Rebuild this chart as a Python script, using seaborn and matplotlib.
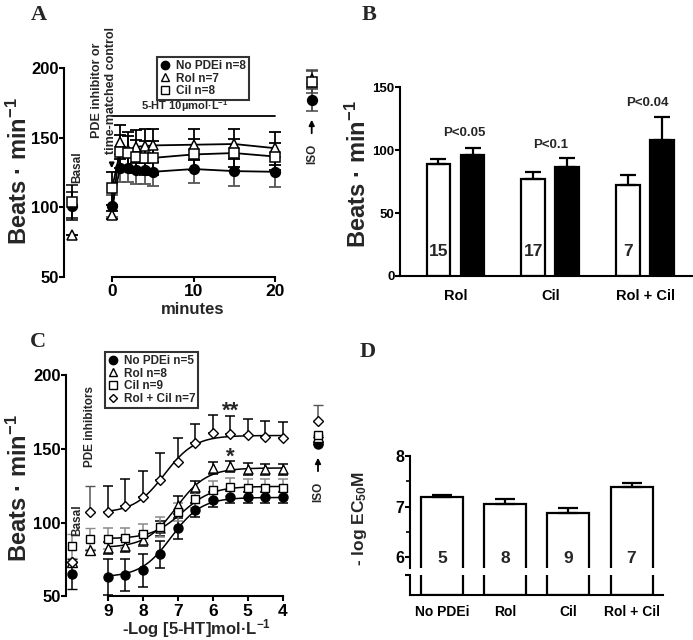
import numpy as np
import pandas as pd
import matplotlib
matplotlib.use("Agg")
import matplotlib.pyplot as plt
import seaborn as sns
from matplotlib.lines import Line2D

# ---------------- data ----------------
# Panel A : time course (minutes), Beats/min
a_time = [0, 1, 2, 3, 4, 5, 10, 15, 20]
a_nopde = [101, 128.5, 128.5, 127, 127, 125.5, 127.5, 126, 125.5]
a_nopde_sem = [8, 10, 10, 10, 10, 10, 10, 11, 11]
a_rol = [94.5, 147, 141, 143.5, 144, 144.5, 145, 145.5, 142.5]
a_rol_sem = [3, 12, 13, 12, 12, 12, 11, 11, 12]
a_cil = [113.5, 140, 139, 136.5, 135.5, 135.5, 138, 139, 136.5]
a_cil_sem = [12, 12, 12, 12, 12, 12, 11, 10, 10]
a_labels = ["No PDEi n=8", "Rol n=7", "Cil n=8"]
a_basal = [101, 80, 104]        # No PDEi, Rol, Cil
a_basal_sem = [10, 0, 12]
a_iso = [177.5, 192, 190]
a_iso_sem = [8.5, 7, 8]

# Panel B : before / after bars
b_groups = ["Rol", "Cil", "Rol + Cil"]
b_before = [89, 77, 72]
b_before_sem = [4, 6, 8]
b_after = [96.5, 86.5, 108]
b_after_sem = [5, 7.5, 18]
b_n = ["15", "17", "7"]
b_p = ["P<0.05", "P<0.1", "P<0.04"]

# Panel C : concentration-response (-log[5-HT])
c_conc = [9, 8.5, 8, 7.5, 7, 6.5, 6, 5.5, 5, 4.5, 4]
c_nopde = [63, 64.5, 67.5, 78.5, 96, 108.5, 115.5, 117.5, 117, 117, 117]
c_nopde_sem = [12, 11, 11, 9, 7, 5, 5, 4, 4, 4, 4]
c_rol = [82.5, 84, 88, 96, 112, 124, 137, 138, 136.5, 136, 136]
c_rol_sem = [4, 4, 4, 5, 6, 4, 4, 4, 4, 4, 4]
c_cil = [89, 89.5, 92, 97, 107, 116, 122, 124, 123.5, 123.5, 123.5]
c_cil_sem = [7, 7, 7, 7, 6, 6, 6, 6, 6, 6, 6]
c_rc = [107, 111.5, 117, 129, 141, 154, 161, 160, 159, 158, 157]
c_rc_sem = [18, 18, 18, 18, 16, 13, 12, 12, 11, 11, 11]
c_labels = ["No PDEi n=5", "Rol n=8", "Cil n=9", "Rol + Cil n=7"]
c_fit_bottom = [63, 83, 89, 106.5]
c_fit_top = [117, 137, 124.5, 159]
c_basal = [65, 73, 84, 73]
c_basal_sem = [10, 0, 8, 0]
c_pdei = [np.nan, 81.5, 89, 107]
c_pdei_sem = [0, 0, 7, 18]
c_iso = [153, 158, 159.5, 169]
c_iso_sem = [0, 0, 0, 11]

# Panel D : -log EC50
d_groups = ["No PDEi", "Rol", "Cil", "Rol + Cil"]
d_vals = [7.19, 7.05, 6.88, 7.38]
d_sem = [0.05, 0.11, 0.10, 0.09]
d_n = ["5", "8", "9", "7"]

# ---------------- style ----------------
sns.set_style("ticks")
plt.rcParams.update({
    'font.family': ['Liberation Sans', 'DejaVu Sans'],
    'font.weight': 'bold',
    'mathtext.fontset': 'custom',
    'mathtext.rm': 'Liberation Sans:bold',
    'mathtext.bf': 'Liberation Sans:bold',
    'mathtext.it': 'Liberation Sans:bold:italic',
    'axes.linewidth': 1.5,
    'xtick.color': 'black', 'ytick.color': 'black',
    'axes.edgecolor': 'black',
})

W, H = 693, 640
fig = plt.figure(figsize=(W / 100, H / 100), dpi=100)
fig.patch.set_facecolor('white')


def add_ax(x0, y0, x1, y1):
    ax = fig.add_axes([x0 / W, 1 - y1 / H, (x1 - x0) / W, (y1 - y0) / H])
    ax.set_facecolor('none')
    for s in ['top', 'right']:
        ax.spines[s].set_visible(False)
    for s in ['left', 'bottom']:
        ax.spines[s].set_linewidth(1.5)
        ax.spines[s].set_color('black')
    ax.tick_params(width=1.5, length=3.5, direction='out', color='black')
    return ax


def ftext(x, y, s, **kw):
    return fig.text(x / W, 1 - y / H, s, **kw)


def px2fig(x, y):
    return (x / W, 1 - y / H)


BOLD = dict(fontweight='bold')
YLAB = r"Beats · min$^{\mathbf{-1}}$"

# ================= Panel A =================
xpx0, xpx20 = 112, 275
ppm = (xpx20 - xpx0) / 20.0
yA50, yA200 = 276.7, 68.3
ppuA = (yA50 - yA200) / 150.0
axA = add_ax(64, 40, 335, yA50)
axA.set_xlim((64 - xpx0) / ppm, (335 - xpx0) / ppm)
axA.set_ylim(50, 200 + (yA200 - 40) / ppuA)
axA.spines['left'].set_bounds(50, 200)
axA.spines['bottom'].set_bounds(0, 20)
axA.set_xticks([0, 10, 20])
axA.set_yticks([50, 100, 150, 200])
axA.tick_params(axis='y', labelsize=12, pad=0.5)
axA.tick_params(axis='x', labelsize=12.5, pad=2)
xA_basal = (72 - xpx0) / ppm
xA_iso = (311.7 - xpx0) / ppm

a_series = [(a_nopde, a_nopde_sem, 'o', 'black', '#555555'),
            (a_rol, a_rol_sem, '^', 'white', 'black'),
            (a_cil, a_cil_sem, 's', 'white', 'black')]
for i, (vals, sem, m, fc, ec) in enumerate(a_series):
    axA.errorbar(a_time, vals, yerr=sem, fmt='none', ecolor=ec, elinewidth=1.3,
                 capsize=4, capthick=1.3, zorder=2)
    sns.lineplot(x=a_time, y=vals, ax=axA, color='black', linewidth=1.3,
                 marker=m, markersize=7 if m != 's' else 6.5, markerfacecolor=fc,
                 markeredgecolor='black', markeredgewidth=1.1, zorder=3)
    axA.errorbar([xA_basal], [a_basal[i]], yerr=[a_basal_sem[i]], fmt=m,
                 ms=7 if m != 's' else 6.5, mfc=fc, mec='black', mew=1.1,
                 ecolor='black', elinewidth=1.3, capsize=4, capthick=1.3, zorder=3)
    axA.errorbar([xA_iso], [a_iso[i]], yerr=[a_iso_sem[i]], fmt=m,
                 ms=7 if m != 's' else 6.5, mfc=fc, mec='black', mew=1.1,
                 ecolor='#444444', elinewidth=1.3, capsize=4, capthick=1.3, zorder=3)

hA = [Line2D([], [], marker=m, linestyle='none', ms=6 if m != 's' else 5.5,
             mfc=fc, mec='black', mew=1.0) for (_, _, m, fc, _) in a_series]
legA = axA.legend(hA, a_labels, loc='upper left', bbox_to_anchor=px2fig(157, 57),
                  bbox_transform=fig.transFigure, frameon=True, fancybox=False,
                  edgecolor='black', borderpad=0.25, labelspacing=0.05,
                  handlelength=0.9, handletextpad=0.45, borderaxespad=0,
                  prop=dict(size=8.5, weight='bold'))
legA.get_frame().set_linewidth(1.5)

# 5-HT exposure bar
y5ht = 100 + (207.3 - 115.7) / ppuA
axA.plot([a_time[0], a_time[-1]], [y5ht, y5ht], color='black', lw=1.3)
ftext(185, 106.5, r"5-HT 10µmol·L$^{\mathbf{-1}}$", ha='center', va='center',
      fontsize=8, **BOLD)
ftext(104, 154, "PDE inhibitor or\ntime-matched control", rotation=90,
      ha='center', va='bottom', fontsize=9, linespacing=1.15, **BOLD)
fig.add_artist(matplotlib.patches.FancyArrowPatch(
    px2fig(111.7, 160), px2fig(111.7, 171), transform=fig.transFigure,
    arrowstyle='-|>', mutation_scale=7, color='black', lw=1.3))
ftext(77, 183, "Basal", rotation=90, ha='center', va='bottom', fontsize=8.5, **BOLD)
fig.add_artist(matplotlib.patches.FancyArrowPatch(
    px2fig(311.7, 136), px2fig(311.7, 117), transform=fig.transFigure,
    arrowstyle='-|>', mutation_scale=8, color='black', lw=1.3))
ftext(312, 154, "ISO", rotation=90, ha='center', va='center', fontsize=8.5, **BOLD)
ftext(19, 171, YLAB, rotation=90, ha='center', va='center', fontsize=17, **BOLD)
ftext(193, 309, "minutes", ha='center', va='center', fontsize=12, **BOLD)
ftext(39, 15, "A", ha='center', va='center', fontsize=16, fontweight='bold',
      family='Liberation Serif')

# ================= Panel B =================
gB0, gBstep = 455.5, 94.75
axB = add_ax(400, 87.3, 693, 276)
dfB = pd.DataFrame({'group': b_groups * 2,
                    'cond': ['before'] * 3 + ['after'] * 3,
                    'value': b_before + b_after})
sns.barplot(data=dfB, x='group', y='value', hue='cond', hue_order=['before', 'after'],
            palette={'before': 'white', 'after': 'black'}, saturation=1,
            edgecolor='black', linewidth=1.6, width=0.72, gap=0.3,
            errorbar=None, legend=False, ax=axB)
axB.set_xlim((400 - gB0) / gBstep, (693 - gB0) / gBstep)
axB.set_ylim(0, 150)
axB.set_yticks([0, 50, 100, 150])
axB.set_xlabel('')
axB.set_ylabel('')
axB.tick_params(axis='y', labelsize=9.5, pad=0.5)
axB.tick_params(axis='x', length=0, labelsize=10.5, pad=9)
barsB = sorted(axB.patches, key=lambda p: p.get_x())
b_means = [v for pair in zip(b_before, b_after) for v in pair]
b_sems = [v for pair in zip(b_before_sem, b_after_sem) for v in pair]
for p, mval, s in zip(barsB, b_means, b_sems):
    xc = p.get_x() + p.get_width() / 2
    axB.errorbar([xc], [mval], yerr=[[0], [s]], fmt='none', ecolor='black',
                 elinewidth=1.6, capsize=6, capthick=1.6, zorder=1)
for i, p in enumerate(barsB[0::2]):
    xc = p.get_x() + p.get_width() / 2
    axB.text(xc, 19.5, b_n[i], ha='center', va='center', fontsize=12.5, **BOLD)
p_offsets = [0.09, 0.0, 0.03]
p_heights = [113.5, 104, 137.5]
for i, (txt, dx, hy) in enumerate(zip(b_p, p_offsets, p_heights)):
    axB.text(i + dx, hy, txt, ha='center', va='center', fontsize=9.5, **BOLD)
ftext(358, 174, YLAB, rotation=90, ha='center', va='center', fontsize=17, **BOLD)
ftext(369, 15, "B", ha='center', va='center', fontsize=16, fontweight='bold',
      family='Liberation Serif')

# ================= Panel C =================
xC9, pxC = 108, 34.9
yC50, yC200 = 596.3, 375
ppuC = (yC50 - yC200) / 150.0
axC = add_ax(66, 340, 340, yC50)
axC.set_xlim(9 + (xC9 - 66) / pxC, 9 - (340 - xC9) / pxC)
axC.set_ylim(50, 200 + (yC200 - 340) / ppuC)
axC.spines['left'].set_bounds(50, 200)
axC.spines['bottom'].set_bounds(4, 9)
axC.set_xticks([9, 8, 7, 6, 5, 4])
axC.set_yticks([50, 100, 150, 200])
axC.tick_params(axis='y', labelsize=12, pad=0.5)
axC.tick_params(axis='x', labelsize=12.5, pad=2)
xC_basal = 9 + (xC9 - 72) / pxC
xC_pde = 9 + (xC9 - 89.5) / pxC
xC_iso = 9 - (318 - xC9) / pxC

c_series = [(c_nopde, c_nopde_sem, 'o', 'black', 'black', 6.5, True),
            (c_rol, c_rol_sem, '^', 'white', 'black', 6.5, True),
            (c_cil, c_cil_sem, 's', 'white', '#8a8a8a', 6, True),
            (c_rc, c_rc_sem, 'D', 'white', 'black', 5, False)]
grid = np.linspace(max(c_conc), min(c_conc), 200)
for i, (vals, sem, m, fc, ec, ms, both) in enumerate(c_series):
    yerr = sem if both else [np.zeros(len(sem)), sem]
    axC.errorbar(c_conc, vals, yerr=yerr, fmt='none', ecolor=ec, elinewidth=1.1,
                 capsize=3.5, capthick=1.1, zorder=2)
    fit = c_fit_bottom[i] + (c_fit_top[i] - c_fit_bottom[i]) / (1 + 10 ** (grid - d_vals[i]))
    sns.lineplot(x=grid, y=fit, ax=axC, color='black', linewidth=1.1, zorder=2.5,
                 sort=False)
    sns.scatterplot(x=c_conc, y=vals, ax=axC, marker=m, s=ms ** 2, color=fc,
                    edgecolor='black', linewidth=1.0, zorder=3)
    for xx, vv, ss in [(xC_basal, c_basal[i], c_basal_sem[i]),
                       (xC_pde, c_pdei[i], c_pdei_sem[i]),
                       (xC_iso, c_iso[i], c_iso_sem[i])]:
        if np.isnan(vv):
            continue
        ye = [[ss], [ss]] if both else [[0], [ss]]
        axC.errorbar([xx], [vv], yerr=ye, fmt=m, ms=ms, mfc=fc, mec='black', mew=1.0,
                     ecolor=ec if i != 3 else '#555555', elinewidth=1.1,
                     capsize=3.5, capthick=1.1, zorder=3)

hC = [Line2D([], [], marker=m, linestyle='none', ms=ms - 0.5, mfc=fc, mec='black', mew=1.0)
      for (_, _, m, fc, _, ms, _) in c_series]
legC = axC.legend(hC, c_labels, loc='upper left', bbox_to_anchor=px2fig(105, 352),
                  bbox_transform=fig.transFigure, frameon=True, fancybox=False,
                  edgecolor='black', borderpad=0.25, labelspacing=0.05,
                  handlelength=0.9, handletextpad=0.45, borderaxespad=0,
                  prop=dict(size=8.5, weight='bold'))
legC.get_frame().set_linewidth(1.5)

ftext(230.5, 411, "**", ha='center', va='center', fontsize=16, **BOLD)
ftext(230.5, 457, "*", ha='center', va='center', fontsize=16, **BOLD)
ftext(77, 536, "Basal", rotation=90, ha='center', va='bottom', fontsize=8.5, **BOLD)
ftext(90, 467, "PDE inhibitors", rotation=90, ha='center', va='bottom', fontsize=8.5, **BOLD)
fig.add_artist(matplotlib.patches.FancyArrowPatch(
    px2fig(318, 474), px2fig(318, 455), transform=fig.transFigure,
    arrowstyle='-|>', mutation_scale=8, color='black', lw=1.3))
ftext(318, 492, "ISO", rotation=90, ha='center', va='center', fontsize=8.5, **BOLD)
ftext(19, 488, YLAB, rotation=90, ha='center', va='center', fontsize=17, **BOLD)
ftext(196, 629, r"-Log [5-HT]mol·L$^{\mathbf{-1}}$", ha='center', va='center',
      fontsize=12, **BOLD)
ftext(38, 342, "C", ha='center', va='center', fontsize=16, fontweight='bold',
      family='Liberation Serif')

# ================= Panel D =================
gD0, gDstep = 442, 63.17
axDt = add_ax(410, 456, 663, 568)
axDb = add_ax(410, 575, 663, 595)
for ax in (axDt, axDb):
    sns.barplot(x=d_groups, y=d_vals, color='white', saturation=1, edgecolor='black',
                linewidth=1.6, width=0.665, errorbar=None, ax=ax)
    ax.set_xlim((410 - gD0) / gDstep, (663 - gD0) / gDstep)
axDt.set_ylim(8 - (568 - 456) / 50.7, 8)
axDb.set_ylim(0, 1)
axDt.spines['bottom'].set_visible(False)
axDt.set_xticks([])
axDt.set_yticks([6, 7, 8])
axDt.set_yticks([6.5, 7.5], minor=True)
axDt.tick_params(axis='y', which='minor', length=3, width=1.2)
axDt.tick_params(axis='y', labelsize=11.5, pad=0.5)
axDb.set_yticks([1])
axDb.set_yticklabels([''])
axDb.tick_params(axis='x', length=0, labelsize=10, pad=7)
barsD = sorted(axDt.patches, key=lambda p: p.get_x())
for p, v, s, n in zip(barsD, d_vals, d_sem, d_n):
    xc = p.get_x() + p.get_width() / 2
    axDt.errorbar([xc], [v], yerr=[[0], [s]], fmt='none', ecolor='black',
                  elinewidth=1.6, capsize=7, capthick=1.6, zorder=1)
    axDt.text(xc, 5.985, n, ha='center', va='center', fontsize=12.5, **BOLD)
ftext(360, 518, r"- log EC$_{\mathbf{50}}$M", rotation=90, ha='center', va='center',
      fontsize=12.5, **BOLD)
ftext(368, 352, "D", ha='center', va='center', fontsize=16, fontweight='bold',
      family='Liberation Serif')

fig.savefig("out.png", dpi=100, facecolor='white')
